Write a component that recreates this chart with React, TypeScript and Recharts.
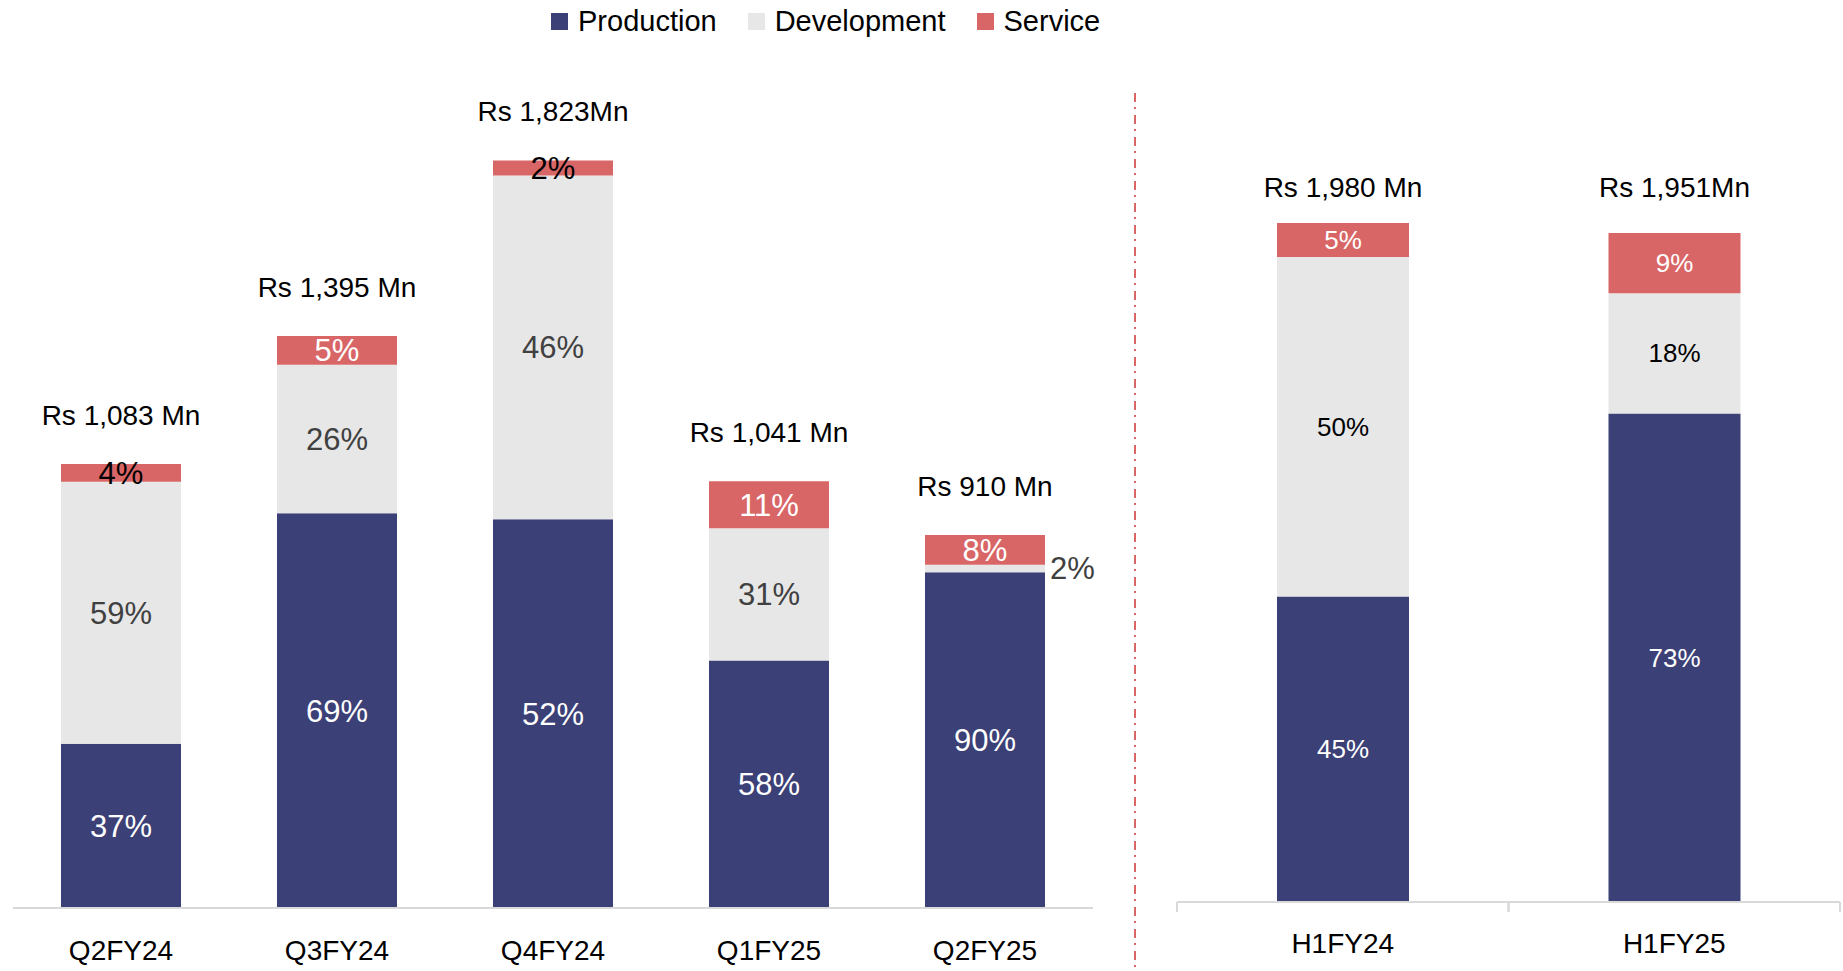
import React from 'react';
import { BarChart, Bar, XAxis, YAxis, LabelList, Legend } from 'recharts';

const quarters = ['Q2FY24', 'Q3FY24', 'Q4FY24', 'Q1FY25', 'Q2FY25'];
const quarterTotals = [1083, 1395, 1823, 1041, 910];
const quarterTotalLabels = ['Rs 1,083 Mn', 'Rs 1,395 Mn', 'Rs 1,823Mn', 'Rs 1,041 Mn', 'Rs 910 Mn'];
const quarterProductionPct = [37, 69, 52, 58, 90];
const quarterDevelopmentPct = [59, 26, 46, 31, 2];
const quarterServicePct = [4, 5, 2, 11, 8];

const halves = ['H1FY24', 'H1FY25'];
const halfTotals = [1980, 1951];
const halfTotalLabels = ['Rs 1,980 Mn', 'Rs 1,951Mn'];
const halfProductionPct = [45, 73];
const halfDevelopmentPct = [50, 18];
const halfServicePct = [5, 9];

const seriesOrder = ['Production', 'Development', 'Service'];

const FONT = '"Liberation Sans", Arial, sans-serif';
const NAVY = '#3B4076';
const GREY = '#E7E7E7';
const RED = '#D96666';
const AXIS = '#D9D9D9';

type Row = {
  name: string;
  total: number;
  totalLabel: string;
  Production: number;
  Development: number;
  Service: number;
  pPct: number;
  dPct: number;
  sPct: number;
};

const buildRows = (
  names: string[],
  totals: number[],
  labels: string[],
  p: number[],
  d: number[],
  s: number[]
): Row[] =>
  names.map((name, i) => ({
    name,
    total: totals[i],
    totalLabel: labels[i],
    Production: (totals[i] * p[i]) / 100,
    Development: (totals[i] * d[i]) / 100,
    Service: (totals[i] * s[i]) / 100,
    pPct: p[i],
    dPct: d[i],
    sPct: s[i],
  }));

const quarterRows = buildRows(quarters, quarterTotals, quarterTotalLabels, quarterProductionPct, quarterDevelopmentPct, quarterServicePct);
const halfRows = buildRows(halves, halfTotals, halfTotalLabels, halfProductionPct, halfDevelopmentPct, halfServicePct);

const renderLegend = (props: any) => {
  const payload = [...(props.payload || [])].sort(
    (a: any, b: any) => seriesOrder.indexOf(String(a.value)) - seriesOrder.indexOf(String(b.value))
  );
  return (
    <div style={{ display: 'flex', alignItems: 'center', fontFamily: FONT, fontSize: 29, color: '#000', whiteSpace: 'nowrap', lineHeight: '36px' }}>
      {payload.map((e: any, i: number) => (
        <div key={i} style={{ display: 'flex', alignItems: 'center', marginRight: i < payload.length - 1 ? 31 : 0 }}>
          <span style={{ width: 17, height: 17, background: e.color, display: 'inline-block', marginRight: 10 }} />
          <span>{e.value}</span>
        </div>
      ))}
    </div>
  );
};

const LeftTick = (props: any) => {
  const { x, y, payload } = props;
  return (
    <text x={x} y={y + 34} dy="0.35em" textAnchor="middle" fontFamily={FONT} fontSize={28} fill="#000">
      {payload.value}
    </text>
  );
};

// Right axis: label at band centre, tick marks at the band edges
const RightTick = (props: any) => {
  const { x, y, payload } = props;
  const half = Number(payload && payload.offset) || 0;
  return (
    <g>
      {half > 0 && <line x1={x - half} x2={x - half} y1={y} y2={y + 10} stroke={AXIS} strokeWidth={2} />}
      {half > 0 && <line x1={x + half} x2={x + half} y1={y} y2={y + 10} stroke={AXIS} strokeWidth={2} />}
      <text x={x} y={y + 41} dy="0.35em" textAnchor="middle" fontFamily={FONT} fontSize={28} fill="#000">
        {payload.value}
      </text>
    </g>
  );
};

const centerText = (x: number, y: number, txt: string, size: number, fill: string, anchor: string = 'middle') => (
  <text x={x} y={y} dy="0.35em" textAnchor={anchor as any} fontFamily={FONT} fontSize={size} fill={fill}>
    {txt}
  </text>
);

// Left chart label renderers
const qProdLabel = (props: any) => {
  const { x, y, width, height, index } = props;
  const r = quarterRows[index];
  return centerText(x + width / 2, y + height / 2, r.pPct + '%', 31, '#FFFFFF');
};
const qDevLabel = (props: any) => {
  const { x, y, width, height, index } = props;
  const r = quarterRows[index];
  if (r.dPct < 3) return centerText(x + width + 5, y + height / 2, r.dPct + '%', 31, '#404040', 'start');
  return centerText(x + width / 2, y + height / 2, r.dPct + '%', 31, '#404040');
};
const qSvcLabel = (props: any) => {
  const { x, y, width, height, index } = props;
  const r = quarterRows[index];
  return (
    <g>
      {centerText(x + width / 2, y + height / 2, r.sPct + '%', 31, r.sPct >= 5 ? '#FFFFFF' : '#000000')}
      {centerText(x + width / 2, y - 49, r.totalLabel, 28, '#000000')}
    </g>
  );
};

// Right chart label renderers
const hProdLabel = (props: any) => {
  const { x, y, width, height, index } = props;
  const r = halfRows[index];
  const pxPer = height / r.Production;
  const base = y + height;
  const maxTop = base - Math.max(...halfTotals) * pxPer;
  return (
    <g>
      {centerText(x + width / 2, y + height / 2, r.pPct + '%', 26, '#FFFFFF')}
      {centerText(x + width / 2, maxTop - 36, r.totalLabel, 28, '#000000')}
    </g>
  );
};
const hDevLabel = (props: any) => {
  const { x, y, width, height, index } = props;
  const r = halfRows[index];
  return centerText(x + width / 2, y + height / 2, r.dPct + '%', 26, '#000000');
};
const hSvcLabel = (props: any) => {
  const { x, y, width, height, index } = props;
  const r = halfRows[index];
  return centerText(x + width / 2, y + height / 2, r.sPct + '%', 26, '#FFFFFF');
};

export default function App() {
  return (
    <div style={{ position: 'absolute', left: 0, top: 0, width: 1843, height: 971, background: '#fff', overflow: 'hidden' }}>
      <div style={{ position: 'absolute', left: 0, top: 0 }}>
        <BarChart width={1110} height={971} data={quarterRows} margin={{ top: 88, right: 17, bottom: 0, left: 13 }}>
          <XAxis
            dataKey="name"
            tickLine={false}
            axisLine={{ stroke: AXIS, strokeWidth: 2 }}
            height={63}
            tick={<LeftTick />}
            interval={0}
          />
          <YAxis hide domain={[0, 2000]} />
          <Legend
            layout="horizontal"
            verticalAlign="middle"
            align="center"
            content={renderLegend}
            wrapperStyle={{ position: 'absolute', top: 3, left: 551, width: 'auto', height: 36 }}
          />
          <Bar dataKey="Production" stackId="a" fill={NAVY} barSize={120} isAnimationActive={false}>
            <LabelList dataKey="pPct" content={qProdLabel} />
          </Bar>
          <Bar dataKey="Development" stackId="a" fill={GREY} barSize={120} isAnimationActive={false}>
            <LabelList dataKey="dPct" content={qDevLabel} />
          </Bar>
          <Bar dataKey="Service" stackId="a" fill={RED} barSize={120} isAnimationActive={false}>
            <LabelList dataKey="sPct" content={qSvcLabel} />
          </Bar>
        </BarChart>
      </div>
      <div style={{ position: 'absolute', left: 1140, top: 0 }}>
        <BarChart width={703} height={971} data={halfRows} margin={{ top: 79, right: 3, bottom: 0, left: 37 }}>
          <XAxis
            dataKey="name"
            tickLine={false}
            tickSize={0}
            tickMargin={0}
            axisLine={{ stroke: AXIS, strokeWidth: 2 }}
            height={69}
            tick={<RightTick />}
            interval={0}
          />
          <YAxis hide domain={[0, 2400]} />
          <Bar dataKey="Production" stackId="a" fill={NAVY} barSize={132} isAnimationActive={false}>
            <LabelList dataKey="pPct" content={hProdLabel} />
          </Bar>
          <Bar dataKey="Development" stackId="a" fill={GREY} barSize={132} isAnimationActive={false}>
            <LabelList dataKey="dPct" content={hDevLabel} />
          </Bar>
          <Bar dataKey="Service" stackId="a" fill={RED} barSize={132} isAnimationActive={false}>
            <LabelList dataKey="sPct" content={hSvcLabel} />
          </Bar>
        </BarChart>
      </div>
      <svg width={1843} height={971} style={{ position: 'absolute', left: 0, top: 0, pointerEvents: 'none' }}>
        <line x1={1135} y1={93} x2={1135} y2={971} stroke={RED} strokeWidth={2} strokeDasharray="9 5 2 6" />
      </svg>
    </div>
  );
}
